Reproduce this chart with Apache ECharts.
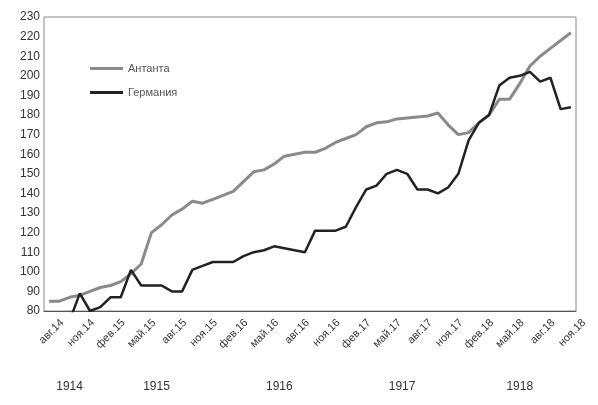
<!DOCTYPE html>
<html>
<head>
<meta charset="utf-8">
<script src="https://cdn.jsdelivr.net/npm/echarts@6/dist/echarts.min.js"></script>
<style>html,body{margin:0;padding:0;background:#fff}#c{width:598px;height:405px}</style>
</head>
<body>
<div id="c"></div>
<script>
const months = ['авг.14','сен.14','окт.14','ноя.14','дек.14',
 'янв.15','фев.15','мар.15','апр.15','май.15','июн.15','июл.15','авг.15','сен.15','окт.15','ноя.15','дек.15',
 'янв.16','фев.16','мар.16','апр.16','май.16','июн.16','июл.16','авг.16','сен.16','окт.16','ноя.16','дек.16',
 'янв.17','фев.17','мар.17','апр.17','май.17','июн.17','июл.17','авг.17','сен.17','окт.17','ноя.17','дек.17',
 'янв.18','фев.18','мар.18','апр.18','май.18','июн.18','июл.18','авг.18','сен.18','окт.18','ноя.18'];
const entente = [85,85,87,88,90,92,93,95,99,104,120,124,129,132,136,135,137,139,141,146,151,152,155,159,160,161,161,163,166,168,170,174,176,176.5,178,178.5,179,179.5,181,175,170,171,176,180,188,188,196,205,210,214,218,222];
const germany = [null,null,75,89,80,82,87,87,101,93,93,93,90,90,101,103,105,105,105,108,110,111,113,112,111,110,121,121,121,123,133,142,144,150,152,150,142,142,140,143,150,167,176,180,195,199,200,202,197,199,183,184];
const years = ['1914','1915','1916','1917','1918'];
const yTicks = {min: 80, max: 230, step: 10};
const seriesNames = ['Антанта','Германия'];

// year label positions: centre of each year's run of months
const yearCentres = years.map(y => {
  const idx = months.map((m,i)=>m.endsWith('.'+y.slice(2)) ? i : -1).filter(i=>i>=0);
  return (idx[0] + idx[idx.length-1]) / 2;
});

const chart = echarts.init(document.getElementById('c'));
const font = 'Liberation Sans, Arial, sans-serif';
chart.setOption({
  animation: false,
  grid: [
    {left: 44, right: 22, top: 17, bottom: 94, show: true, borderColor: '#8a8a8a', borderWidth: 1},
    {left: 57, right: 9, top: 17, bottom: 94, show: false},
    {left: 44, right: 22, top: 17, bottom: 94, show: false}
  ],
  legend: {
    orient: 'vertical', left: 85, top: 58, itemGap: 13,
    itemWidth: 33, itemHeight: 3, icon: 'rect',
    textStyle: {fontFamily: font, fontSize: 11, color: '#555'},
    data: seriesNames
  },
  xAxis: [
    {type: 'category', gridIndex: 0, data: months, boundaryGap: true,
     axisLine: {lineStyle: {color: '#555', width: 1}}, axisTick: {show: false},
     axisLabel: {show: false}},
    {type: 'category', gridIndex: 1, data: months, boundaryGap: true,
     axisLine: {show: false}, axisTick: {show: false},
     axisLabel: {interval: 2, rotate: 45, margin: 10, fontFamily: font, fontSize: 11, color: '#333'}},
    {type: 'value', gridIndex: 2, min: -0.5, max: months.length - 0.5,
     axisLine: {show: false}, axisTick: {show: false}, splitLine: {show: false},
     axisLabel: {customValues: yearCentres, margin: 70, fontFamily: font, fontSize: 12, color: '#333',
       formatter: v => years[yearCentres.indexOf(v)] || ''}}
  ],
  yAxis: [
    {type: 'value', gridIndex: 0, min: yTicks.min, max: yTicks.max, interval: yTicks.step,
     axisLine: {show: false}, axisTick: {show: false}, splitLine: {show: false},
     axisLabel: {margin: 4, fontFamily: font, fontSize: 12, color: '#333'}},
    {type: 'value', gridIndex: 1, show: false},
    {type: 'value', gridIndex: 2, show: false}
  ],
  series: [
    {name: seriesNames[0], type: 'line', data: entente, symbol: 'none', xAxisIndex: 0, yAxisIndex: 0,
     lineStyle: {color: '#8a8a8a', width: 3}, itemStyle: {color: '#8a8a8a'}},
    {name: seriesNames[1], type: 'line', data: germany, symbol: 'none', xAxisIndex: 0, yAxisIndex: 0,
     lineStyle: {color: '#222', width: 2.5}, itemStyle: {color: '#222'}}
  ]
});
</script>
</body>
</html>
